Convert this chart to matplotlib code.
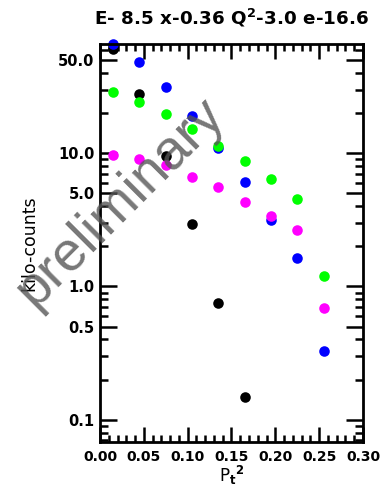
import numpy as np
import matplotlib.pyplot as plt
from matplotlib.ticker import FixedLocator, FixedFormatter, MultipleLocator

# Data
pt2 = [0.015, 0.045, 0.075, 0.105, 0.135, 0.165, 0.195, 0.225, 0.255]
black = [60.5, 27.8, 9.6, 2.93, 0.745, 0.148]
blue = [66.0, 48.0, 31.3, 19.1, 10.9, 6.05, 3.15, 1.63, 0.328]
green = [28.8, 24.2, 19.6, 15.1, 11.4, 8.7, 6.44, 4.56, 1.2]
magenta = [9.66, 9.06, 8.17, 6.67, 5.61, 4.33, 3.39, 2.65, 0.684]

ytick_vals = [0.1, 0.5, 1.0, 5.0, 10.0, 50.0]
ytick_labels = ["0.1", "0.5", "1.0", "5.0", "10.0", "50.0"]
xtick_labels = ["0.00", "0.05", "0.10", "0.15", "0.20", "0.25", "0.30"]

plt.rcParams['font.family'] = ['DejaVu Sans']
plt.rcParams['font.weight'] = 'bold'
plt.rcParams['mathtext.default'] = 'bf'

fig = plt.figure(figsize=(3.82, 4.90), dpi=100)
ax = fig.add_axes([100/382, 48/490, 263/382, 398/490])

ms = 7.6
ax.plot(pt2[:len(black)], black, 'o', color='black', ms=ms, mec='none', clip_on=False)
ax.plot(pt2, blue, 'o', color='blue', ms=ms, mec='none', clip_on=False)
ax.plot(pt2, green, 'o', color='#00ff00', ms=ms, mec='none', clip_on=False)
ax.plot(pt2, magenta, 'o', color='magenta', ms=ms, mec='none', clip_on=False)

ax.set_yscale('log')
ax.set_xlim(0, 0.30)
ax.set_ylim(0.068, 66)

ax.set_xticks(np.arange(0, 0.301, 0.05))
ax.set_xticklabels(xtick_labels)
ax.xaxis.set_minor_locator(MultipleLocator(0.01))

minor_y = [v * m for v in [0.01, 0.1, 1, 10] for m in range(2, 10)
           if v * m not in ytick_vals and 0.068 <= v * m <= 66]
ax.yaxis.set_major_locator(FixedLocator(ytick_vals))
ax.yaxis.set_major_formatter(FixedFormatter(ytick_labels))
ax.yaxis.set_minor_locator(FixedLocator(minor_y))
ax.yaxis.set_minor_formatter(FixedFormatter([""] * len(minor_y)))

ax.tick_params(which='both', direction='in', top=True, right=True, width=1.8)
ax.tick_params(axis='x', which='major', length=11, pad=6, labelsize=10)
ax.tick_params(axis='x', which='minor', length=5)
ax.tick_params(axis='y', which='major', length=12, pad=4, labelsize=10.5)
ax.tick_params(axis='y', which='minor', length=6)
for s in ax.spines.values():
    s.set_linewidth(2)

ax.set_title("E- 8.5 x-0.36 Q$^2$-3.0 e-16.6", fontsize=13.2,
             fontweight='bold', pad=14)
ax.set_xlabel("P$_t$$^2$", fontsize=12, labelpad=0)
ax.set_ylabel("kilo-counts", fontsize=12.5, labelpad=14)

fig.text(120/382, 1 - 203/490, "preliminary", rotation=45, fontsize=40,
         fontweight='normal', color='#555555', alpha=0.8,
         ha='center', va='center', family=['Liberation Sans', 'DejaVu Sans'])

fig.savefig("out.png", dpi=100)
